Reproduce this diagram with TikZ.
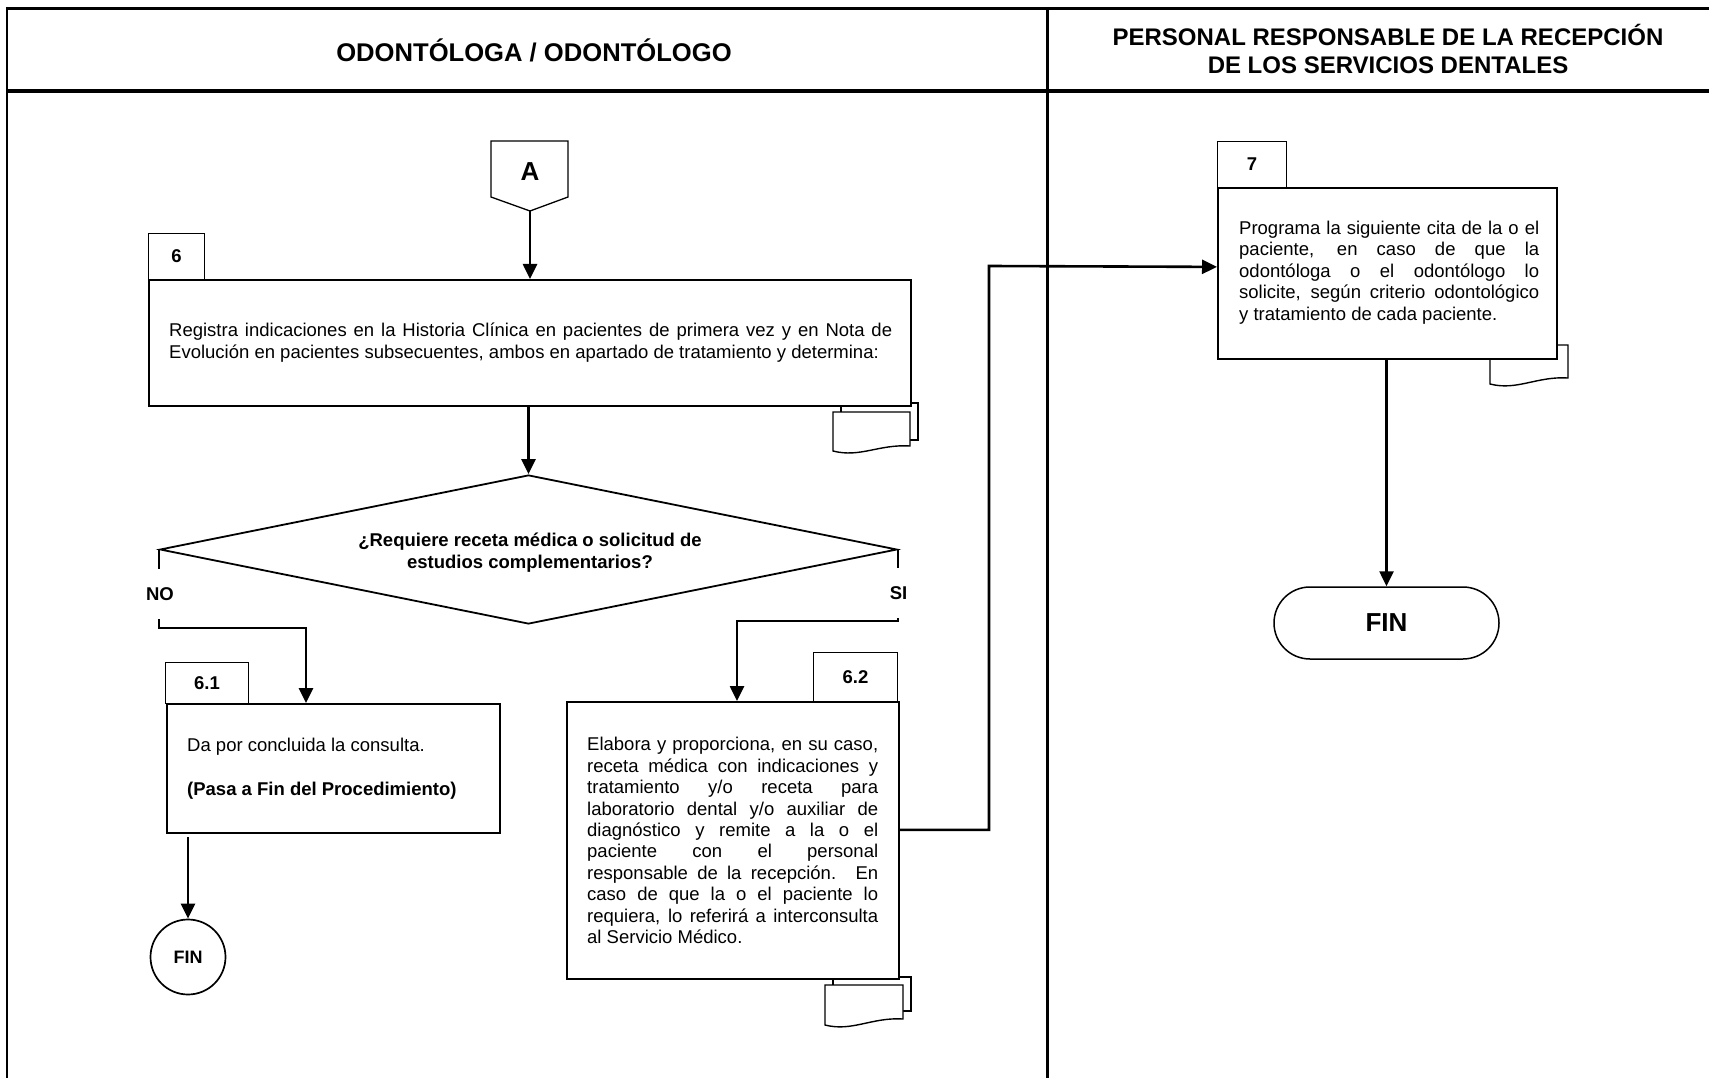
\documentclass[tikz,border=0pt]{standalone}
\usepackage{fontspec}
\setmainfont{Liberation Sans}
\usetikzlibrary{arrows.meta,shapes.geometric}

% one justified line of a fixed width
\newcommand{\fillline}[2]{\makebox[#1][s]{#2}}

\begin{document}
\begin{tikzpicture}[x=1pt,y=-1pt,
  conn/.style={line width=2.6pt},
  arr/.style={conn,-{Triangle[length=15pt,width=14pt]}},
  box/.style={draw,line width=1.8pt,fill=white,inner sep=0pt,anchor=north west},
  tabbox/.style={draw,line width=1.1pt,fill=white,inner sep=0pt,anchor=north west,
    font=\fontsize{18.5}{21}\selectfont\bfseries},
  body/.style={inner sep=0pt,anchor=west,align=left,font=\fontsize{18.5}{21.4}\selectfont},
  lbl/.style={inner sep=0pt,font=\fontsize{18.5}{21}\selectfont\bfseries},
  doc/.style={draw,line width=1.4pt,fill=white},
  head/.style={inner sep=0pt,align=center,font=\fontsize{24}{28}\selectfont\bfseries},
]
\useasboundingbox (0,0) rectangle (1709,1078);
\fill[white] (0,0) rectangle (1709,1078);

% swimlane frame
\draw[line width=3.3pt] (6,8.3) -- (1709,8.3);
\draw[line width=3.3pt] (6,91) -- (1709,91);
\draw[line width=2.5pt] (7.2,7) -- (7.2,1078);
\draw[line width=2.6pt] (1047.7,7) -- (1047.7,1078);

\node[head,font=\fontsize{25.6}{28}\selectfont\bfseries] (lane1) at (534,50) {ODONTÓLOGA / ODONTÓLOGO};
\node[head] (lane2) at (1388,49) {PERSONAL RESPONSABLE DE LA RECEPCIÓN\\DE LOS SERVICIOS DENTALES};

% off-page connector A
\draw[line width=1.3pt,fill=white] (491,141) -- (568,141) -- (568,197) -- (530,211) -- (491,197) -- cycle;
\node[font=\fontsize{26}{28}\selectfont\bfseries,inner sep=0pt] (A) at (530,172) {A};
\coordinate (Atip) at (530,211);

% document symbols (behind the boxes)
\draw[doc] (841,403) rectangle (918,440);
\draw[doc] (833,412) -- (910,412) -- (910,446) .. controls (879,444) and (860,458) .. (833,451) -- cycle;
\draw[doc] (833,977) rectangle (911,1011);
\draw[doc] (825,985) -- (903,985) -- (903,1019) .. controls (872,1017) and (852,1032) .. (825,1025) -- cycle;
\draw[doc] (1490,345) -- (1568,345) -- (1568,378) .. controls (1537,376) and (1517,391) .. (1490,384) -- cycle;

% step tabs
\node[tabbox,minimum width=56,minimum height=46] (tab6) at (148,233) {6};
\node[tabbox,minimum width=83,minimum height=41] (tab61) at (165,662) {6.1};
\node[tabbox,minimum width=84,minimum height=49] (tab62) at (813,652) {6.2};
\node[tabbox,minimum width=69,minimum height=46] (tab7) at (1217,141) {7};

% activity boxes
\node[box,minimum width=762,minimum height=126] (b6) at (148,279) {};
\node[box,minimum width=333,minimum height=129] (b61) at (166,703) {};
\node[box,minimum width=332,minimum height=277] (b62) at (566,701) {};
\node[box,minimum width=339,minimum height=171] (b7) at (1217,187) {};

\node[body] (txt6) at (169,342.5) {%
\fillline{723pt}{Registra indicaciones en la Historia Clínica en pacientes de primera vez y en Nota de}\\
Evolución en pacientes subsecuentes, ambos en apartado de tratamiento y determina:};

\node[body] (txt61) at (187,768.5) {Da por concluida la consulta.\\[22.2pt]
\textbf{(Pasa a Fin del Procedimiento)}};

\node[body] (txt62) at (587,840.5) {%
\fillline{291pt}{Elabora y proporciona, en su caso,}\\
\fillline{291pt}{receta médica con indicaciones y}\\
\fillline{291pt}{tratamiento y/o receta para}\\
\fillline{291pt}{laboratorio dental y/o auxiliar de}\\
\fillline{291pt}{diagnóstico y remite a la o el}\\
\fillline{291pt}{paciente con el personal}\\
\fillline{291pt}{responsable de la recepción. En}\\
\fillline{291pt}{caso de que la o el paciente lo}\\
\fillline{291pt}{requiera, lo referirá a interconsulta}\\
al Servicio Médico.};

\node[body] (txt7) at (1239,272.5) {%
\fillline{300pt}{Programa la siguiente cita de la o el}\\
\fillline{300pt}{paciente, en caso de que la}\\
\fillline{300pt}{odontóloga o el odontólogo lo}\\
\fillline{300pt}{solicite, según criterio odontológico}\\
y tratamiento de cada paciente.};

% decision
\node[draw,diamond,line width=1.8pt,minimum width=737,minimum height=149,inner sep=0pt,shape aspect=4.95] (dec) at (528.5,549.5) {};
\node[lbl,align=center,font=\fontsize{18.5}{22}\selectfont\bfseries] (q) at (530,553) {¿Requiere receta médica o solicitud de\\estudios complementarios?};

\node[lbl,minimum height=50] (no) at (160,594) {NO};
\node[lbl,minimum height=50] (si) at (897,593) {\hspace*{3pt}SI};

% terminators
\node[draw,circle,minimum size=75,inner sep=0pt,line width=1.7pt,font=\fontsize{18}{20}\selectfont\bfseries] (fin1) at (188,957) {FIN};
\node[draw,rounded corners=36pt,minimum width=225,minimum height=72,inner sep=0pt,line width=1.5pt,font=\fontsize{26}{28}\selectfont\bfseries] (fin2) at (1386.5,623) {FIN};

% connectors
\coordinate (noturn) at (306,628);
\coordinate (siturn) at (737,621);
\coordinate (riser) at (989,266);

\draw[arr] (Atip) -- (b6.north -| Atip);
\draw[arr] (dec.north |- b6.south) -- (dec.north);
\draw[conn] (dec.west) -- (no.north -| dec.west);
\draw[arr] (no.south -| dec.west) |- (noturn) -- (noturn |- b61.north);
\draw[conn] (dec.east) -- (si.north -| dec.east);
\draw[arr] (si.south -| dec.east) |- (siturn) -- (siturn |- b62.north);
\draw[arr,shorten <=3pt] (fin1.north |- b61.south) -- (fin1.north);
\draw[arr] ([yshift=10.5pt]b62.east) -| (riser) -- ([yshift=6.5pt]b7.west);
\draw[arr] (b7.south -| fin2.north) -- (fin2.north);
\end{tikzpicture}
\end{document}
